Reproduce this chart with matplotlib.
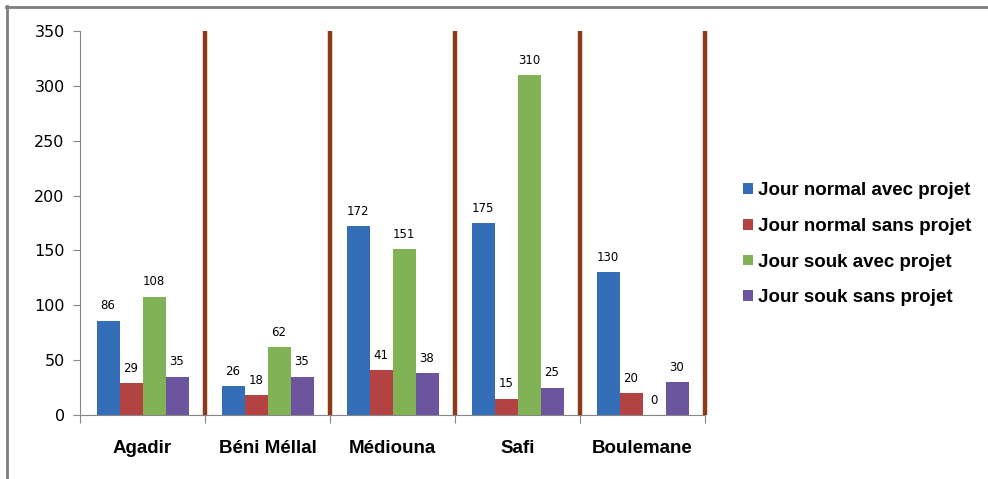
import numpy as np
import matplotlib.pyplot as plt
from matplotlib.lines import Line2D

# data
villes = ['Agadir', 'Béni Méllal', 'Médiouna', 'Safi', 'Boulemane']
normal_avec = [86, 26, 172, 175, 130]
normal_sans = [29, 18, 41, 15, 20]
souk_avec = [108, 62, 151, 310, 0]
souk_sans = [35, 35, 38, 25, 30]
series = ['Jour normal avec projet', 'Jour normal sans projet',
          'Jour souk avec projet', 'Jour souk sans projet']
colors = ['#346EB8', '#B24342', '#82B256', '#6C559E']

fig = plt.figure(figsize=(9.88, 4.79), dpi=100)
ax = fig.add_axes([80/988, 1-415/479, 625/988, 384/479])

x = np.arange(len(villes))
w = 0.184
values = [normal_avec, normal_sans, souk_avec, souk_sans]
bars = []
for i, vals in enumerate(values):
    b = ax.bar(x + (i-1.5)*w, vals, w, color=colors[i], label=series[i], zorder=2)
    bars.append(b)
    for xi, v in zip(x + (i-1.5)*w, vals):
        ax.annotate(str(v), (xi, v), xytext=(0, 6), textcoords='offset points',
                    ha='center', va='bottom', fontsize=8.5, family='DejaVu Sans')

# separator lines between groups
ax.vlines(x + 0.5, 0, 350, color='#8B3A1A', lw=3.2, zorder=3, clip_on=False)

ax.set_xlim(-0.5, len(villes) - 0.5)
ax.set_ylim(0, 350)
ax.set_yticks(range(0, 351, 50))
ax.tick_params(axis='y', labelsize=11.5, length=5, color='#868686', pad=6)

ax.set_xticks(np.arange(-0.5, len(villes), 1))
ax.set_xticklabels([])
ax.tick_params(axis='x', which='major', length=6, color='#868686', direction='out')
ax.set_xticks(x, minor=True)
ax.set_xticklabels(villes, minor=True, fontsize=13.5, fontweight='bold', family='Liberation Sans')
ax.tick_params(axis='x', which='minor', length=0, pad=18)

for s in ['top', 'right']:
    ax.spines[s].set_visible(False)
for s in ['left', 'bottom']:
    ax.spines[s].set_color('#868686')

fig.legend(handles=bars, labels=series, loc='center left', bbox_to_anchor=(0.743, 0.49),
           frameon=False, prop={'family': 'Liberation Sans', 'weight': 'bold', 'size': 13.5},
           handlelength=0.5, handleheight=0.5, handletextpad=0.3, labelspacing=1.0,
           borderpad=0)

# outer frame (top and left only)
fig.add_artist(Line2D([6/988, 1], [1-6.5/479, 1-6.5/479], color='#7F7F7F', lw=2, transform=fig.transFigure))
fig.add_artist(Line2D([6.5/988, 6.5/988], [0, 1-6/479], color='#7F7F7F', lw=2, transform=fig.transFigure))

fig.savefig('out.png', dpi=100)
